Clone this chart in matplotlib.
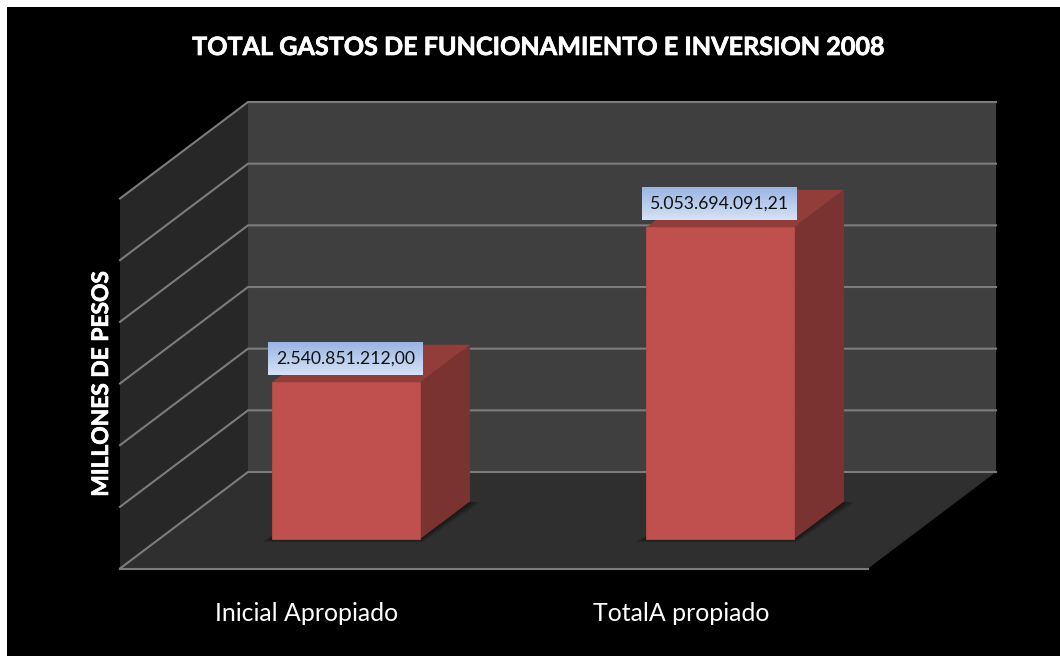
import numpy as np
import matplotlib
matplotlib.use('Agg')
import matplotlib.pyplot as plt
import matplotlib.patheffects as pe
from matplotlib.patches import Polygon, Rectangle

categories = ['Inicial Apropiado', 'TotalA propiado']
values = [2540851212.00, 5053694091.21]
value_labels = ['2.540.851.212,00', '5.053.694.091,21']
y_ticks = [0, 1e9, 2e9, 3e9, 4e9, 5e9, 6e9]

plt.rcParams['font.family'] = ['Lato', 'DejaVu Sans']

W, H = 1060, 656
fig = plt.figure(figsize=(W/100, H/100), dpi=100, facecolor='white')
# black panel runs off the right and bottom edges
fig.patches.append(Rectangle((7/W, 0), (W-7)/W, (H-7)/H, transform=fig.transFigure, facecolor='black', edgecolor='none', zorder=-5))

# front plane of the 3d box, everything else is offset from it
ax = fig.add_axes([120/W, (H-568.5)/H, 748/W, 370/H])
ax.set_xlim(-0.5, 1.5)
ax.set_ylim(0, 6e9)
ax.patch.set_visible(False)
for s in ax.spines.values():
    s.set_visible(False)

DX = 128/374      # full depth in x units
DY = 96.5/61.67*1e9   # full depth in value units
px_x = 2/748
px_y = 6e9/370

def add_poly(pts, color, z, alpha=None):
    ax.add_patch(Polygon(pts, closed=True, facecolor=color, edgecolor='none', alpha=alpha, zorder=z, clip_on=False))

x0, x1 = -0.5, 1.5
top = y_ticks[-1]
# back wall, left wall, floor
add_poly([(x0+DX, DY), (x1+DX, DY), (x1+DX, top+DY), (x0+DX, top+DY)], '#3f3f3f', 1)
add_poly([(x0, 0), (x0+DX, DY), (x0+DX, top+DY), (x0, top)], '#272727', 1)
add_poly([(x0, 0), (x1, 0), (x1+DX, DY), (x0+DX, DY)], '#2f2f2f', 1)

grid_color = '#7c7c7c'
for t in y_ticks:
    ax.plot([x0, x0+DX, x1+DX], [t, t+DY, t+DY], color=grid_color, lw=1.5, zorder=2, clip_on=False, solid_joinstyle='miter')
ax.plot([x0, x1], [0, 0], color=grid_color, lw=1.5, zorder=2, clip_on=False)

# bars
bar_w = 148/374
d0 = 0.307
d1 = 0.695
shift = 0.0
dx = (d1-d0)*DX
dy = (d1-d0)*DY

for i, v in enumerate(values):
    xl = i + shift - bar_w/2 + d0*DX
    xr = xl + bar_w
    yb = d0*DY
    # soft shadow on the floor
    for k in range(1, 7):
        g = (7-k)*1.8
        add_poly([(xl-g*px_x, yb-0.3*g*px_y), (xr+0.2*g*px_x, yb-0.3*g*px_y),
                  (xr+dx+g*px_x, yb+dy-0.1*g*px_y), (xl+dx, yb+dy)], 'black', 3, alpha=0.09)
    # top and side faces
    add_poly([(xl, yb+v), (xr, yb+v), (xr+dx, yb+v+dy), (xl+dx, yb+v+dy)], '#933d3a', 4)
    add_poly([(xr, yb), (xr+dx, yb+dy), (xr+dx, yb+v+dy), (xr, yb+v)], '#7a3331', 4)

ax.bar(np.arange(len(values)) + shift + d0*DX, values, width=bar_w, bottom=d0*DY, color='#c0504d',
       edgecolor='#b84c49', linewidth=0.6, zorder=5, clip_on=False)

# value labels with gradient box
grad = np.linspace(0, 1, 64).reshape(-1, 1)
cmap = matplotlib.colors.LinearSegmentedColormap.from_list('lbl', ['#d6e2f6', '#9ab5e3'])
box_w = 155*px_x
box_h = 33*px_y
for i, v in enumerate(values):
    cx = i + shift + d0*DX - 0.5*px_x
    cy = d0*DY + v + 23.5*px_y
    ax.imshow(grad, cmap=cmap, origin='lower', aspect='auto', zorder=6, clip_on=False, interpolation='bilinear',
              extent=(cx-box_w/2, cx+box_w/2, cy-box_h/2, cy+box_h/2))
    ax.text(cx, cy, value_labels[i], ha='center', va='center', color='#111111', fontsize=12.7, zorder=7)

ax.set_xlim(-0.5, 1.5)
ax.set_ylim(0, 6e9)

ax.set_xticks(range(len(categories)))
ax.set_xticklabels(categories, color='white', fontsize=17.9)
ax.set_yticks([])
ax.tick_params(axis='x', length=0, pad=24)

thick = [pe.withStroke(linewidth=0.5, foreground='white')]
ax.set_ylabel('MILLONES DE PESOS', color='white', fontsize=16.4, fontweight='bold', va='center', path_effects=thick)
ax.yaxis.set_label_coords(-18.5/748, 0.5)

fig.suptitle('TOTAL GASTOS DE FUNCIONAMIENTO E INVERSION 2008', x=538.5/W, y=1-47.5/H, va='center',
             color='white', fontsize=18.1, fontweight='bold', path_effects=thick)

fig.savefig('out.png', dpi=100, facecolor=fig.get_facecolor())
